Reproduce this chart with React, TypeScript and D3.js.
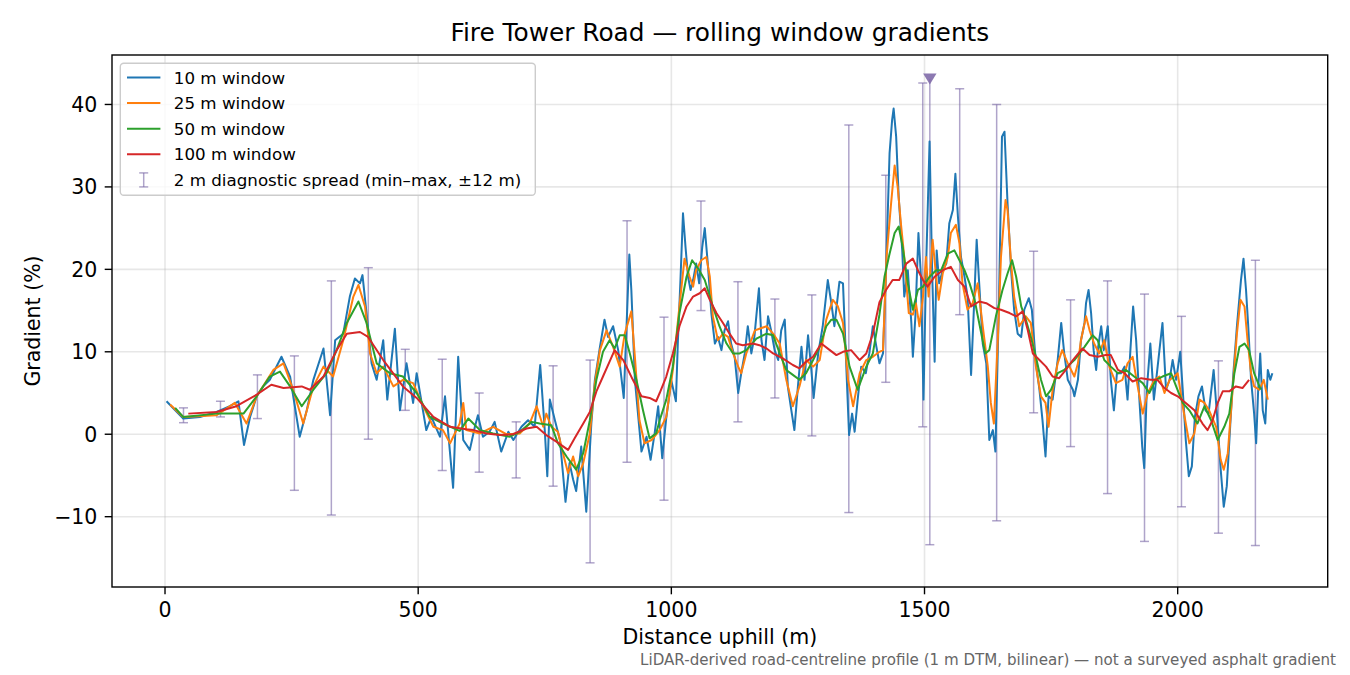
import React from "react";
import * as d3 from "d3";

// distance uphill (m), gradient (%)
const window10: [number, number][] = [
  [3, 4.0], [36, 1.9], [69, 2.1], [102, 2.7], [128, 3.4], [145, 4.0], [156, -1.3], [168, 2.1],
  [181, 4.6], [194, 5.8], [207, 6.6], [230, 9.4], [247, 7.0], [266, -0.3], [280, 2.9], [293, 6.6],
  [313, 10.4], [326, 2.3], [336, 11.4], [352, 12.2], [365, 16.7], [375, 18.9], [385, 18.3], [390, 19.3],
  [398, 14.7], [408, 8.6], [418, 6.6], [431, 11.4], [439, 4.2], [454, 12.8], [464, 2.9], [477, 8.6],
  [490, 3.8], [497, 7.4], [516, 0.5], [526, 2.1], [543, -0.3], [553, 4.6], [569, -6.5], [579, 9.4],
  [589, -0.7], [602, -1.9], [612, 0.9], [618, 2.3], [628, -0.3], [641, 0.3], [651, 1.5], [664, -2.1],
  [678, 0.3], [688, -0.7], [704, 0.9], [717, 1.7], [730, 0.9], [741, 8.4], [750, 0.5], [755, -5.1],
  [760, 4.2], [770, 1.7], [780, -0.7], [791, -8.2], [799, -3.5], [806, -5.5], [812, -6.9], [822, -1.5],
  [832, -9.4], [842, 1.3], [849, 6.6], [859, 10.6], [868, 13.9], [875, 11.8], [885, 13.1], [895, 10.2],
  [906, 4.4], [917, 21.8], [921, 17.5], [928, 6.6], [941, -2.1], [951, -0.3], [959, -3.1], [967, 0.1],
  [974, 3.4], [982, -2.9], [990, 2.0], [1000, 6.5], [1009, 4.0], [1013, 11.4], [1018, 18.7], [1023, 26.8],
  [1028, 22.7], [1033, 19.1], [1038, 17.5], [1043, 18.7], [1049, 20.7], [1055, 18.3], [1061, 22.7], [1066, 25.0],
  [1072, 20.7], [1079, 14.7], [1086, 11.0], [1092, 11.8], [1099, 10.2], [1105, 12.6], [1112, 13.7], [1118, 11.0],
  [1125, 9.4], [1132, 5.0], [1138, 7.4], [1145, 9.8], [1151, 13.1], [1158, 9.8], [1164, 11.8], [1173, 17.7],
  [1178, 11.4], [1184, 9.0], [1191, 14.3], [1197, 12.6], [1204, 10.2], [1211, 9.0], [1217, 12.6], [1224, 13.9],
  [1230, 5.8], [1237, 2.9], [1243, 0.5], [1250, 5.8], [1257, 10.6], [1263, 6.6], [1270, 12.0], [1276, 8.2],
  [1281, 4.4], [1290, 9.8], [1299, 13.1], [1309, 18.7], [1316, 15.9], [1322, 13.1], [1332, 18.5], [1339, 18.3],
  [1345, 9.0], [1351, -0.1], [1357, 2.5], [1362, 0.3], [1368, 4.2], [1375, 8.2], [1384, 7.4], [1391, 9.8],
  [1398, 13.1], [1405, 10.6], [1411, 8.6], [1418, 9.8], [1424, 19.9], [1431, 34.1], [1436, 38.1], [1439, 39.5],
  [1444, 36.1], [1449, 28.8], [1456, 22.3], [1460, 16.7], [1467, 19.9], [1474, 13.5], [1477, 9.4], [1482, 14.3],
  [1488, 24.4], [1493, 19.1], [1498, 4.2], [1503, 19.9], [1510, 35.5], [1515, 19.9], [1520, 8.8], [1524, 22.3],
  [1529, 18.3], [1536, 19.9], [1543, 20.7], [1549, 25.6], [1556, 27.2], [1561, 31.6], [1566, 26.4], [1572, 21.5],
  [1579, 19.1], [1585, 16.7], [1592, 7.2], [1598, 15.9], [1603, 23.6], [1608, 18.3], [1615, 11.0], [1622, 8.6],
  [1628, -0.7], [1635, 0.5], [1640, -2.1], [1647, 15.9], [1653, 36.1], [1658, 36.7], [1664, 28.0], [1671, 19.9],
  [1677, 15.1], [1684, 12.2], [1691, 11.8], [1697, 15.1], [1706, 16.5], [1712, 15.1], [1720, 8.6], [1727, 5.4],
  [1733, 1.7], [1739, -2.7], [1745, 4.6], [1753, 4.2], [1763, 9.0], [1770, 13.5], [1776, 9.8], [1783, 6.6],
  [1793, 5.4], [1796, 4.6], [1803, 6.6], [1809, 11.4], [1816, 13.5], [1819, 15.9], [1824, 17.5], [1829, 14.7],
  [1834, 10.2], [1839, 7.8], [1843, 10.6], [1849, 13.1], [1854, 10.2], [1862, 13.1], [1868, 6.6], [1874, 2.9],
  [1880, 7.4], [1888, 7.4], [1895, 8.2], [1901, 4.2], [1907, 10.6], [1912, 15.5], [1918, 11.4], [1924, 4.6],
  [1930, -1.5], [1934, -4.1], [1939, 5.4], [1946, 11.0], [1953, 4.2], [1959, 7.4], [1964, 10.2], [1970, 13.5],
  [1977, 5.4], [1984, 6.6], [1990, 9.0], [1997, 6.6], [2005, 10.0], [2010, 5.4], [2016, -0.7], [2022, -5.1],
  [2028, -3.9], [2034, 2.1], [2041, 4.6], [2048, 5.8], [2055, 2.9], [2061, 2.5], [2071, 7.8], [2078, 2.1],
  [2085, -4.3], [2091, -8.8], [2097, -6.3], [2104, 1.3], [2110, 7.4], [2117, 13.1], [2125, 18.7], [2130, 21.3],
  [2135, 17.5], [2139, 13.5], [2145, 6.6], [2151, 2.5], [2155, -1.1], [2159, 5.4], [2163, 9.8], [2168, 2.9],
  [2173, 1.3], [2178, 7.8], [2183, 6.6], [2187, 7.4],
];

const window25: [number, number][] = [
  [10, 3.6], [36, 2.1], [102, 2.3], [138, 3.8], [161, 1.3], [181, 4.6], [214, 7.8], [234, 8.6],
  [253, 5.4], [273, 1.3], [293, 5.8], [313, 8.2], [332, 7.0], [352, 11.4], [372, 16.7], [382, 18.1],
  [395, 15.5], [405, 9.8], [418, 7.4], [431, 8.2], [451, 5.8], [470, 6.6], [490, 6.2], [510, 3.4],
  [530, 0.9], [549, 0.5], [563, -1.1], [582, 1.3], [589, 3.8], [595, 0.5], [622, 0.1], [648, 0.9],
  [674, 0.0], [701, 0.1], [720, 1.3], [734, 3.4], [747, 0.9], [753, 2.5], [763, 0.9], [776, 0.3],
  [786, -2.3], [796, -4.7], [806, -2.7], [816, -5.1], [826, -3.5], [839, 0.1], [849, 6.2], [859, 10.2],
  [872, 12.6], [885, 10.6], [898, 8.2], [908, 12.2], [921, 14.9], [928, 9.4], [937, 1.7], [947, -1.1],
  [961, -0.7], [977, 0.5], [990, 2.1], [1003, 7.8], [1016, 15.5], [1026, 21.3], [1036, 19.1], [1043, 17.9],
  [1049, 19.9], [1059, 21.1], [1069, 21.5], [1076, 19.1], [1082, 14.3], [1092, 11.4], [1102, 12.2], [1112, 11.8],
  [1122, 9.8], [1132, 8.2], [1138, 7.4], [1148, 9.8], [1165, 12.6], [1174, 12.8], [1188, 13.1], [1201, 12.2],
  [1214, 11.0], [1227, 6.6], [1240, 3.4], [1253, 5.8], [1266, 9.0], [1280, 8.2], [1293, 9.0], [1306, 13.9],
  [1319, 16.3], [1329, 15.5], [1339, 13.5], [1349, 6.6], [1359, 3.4], [1372, 7.4], [1385, 9.0], [1398, 9.4],
  [1411, 10.0], [1418, 10.2], [1425, 21.5], [1434, 28.0], [1441, 32.6], [1447, 30.0], [1454, 25.2], [1460, 21.5],
  [1469, 14.7], [1477, 14.5], [1483, 15.9], [1490, 13.1], [1497, 16.7], [1503, 21.5], [1508, 16.7], [1516, 23.6],
  [1523, 19.1], [1528, 16.3], [1536, 19.5], [1546, 21.5], [1552, 24.4], [1562, 25.4], [1569, 23.2], [1575, 18.3],
  [1585, 15.1], [1595, 15.9], [1605, 18.3], [1615, 13.1], [1625, 8.2], [1631, 3.8], [1637, 1.3], [1645, 11.8],
  [1651, 21.5], [1660, 28.4], [1664, 27.2], [1671, 20.7], [1677, 16.7], [1687, 13.1], [1700, 14.3], [1710, 13.5],
  [1720, 8.2], [1730, 4.6], [1739, 3.8], [1745, 0.9], [1753, 5.4], [1763, 8.6], [1772, 10.2], [1783, 8.6],
  [1796, 7.0], [1803, 8.6], [1809, 11.4], [1819, 14.3], [1826, 12.6], [1835, 11.0], [1845, 9.8], [1855, 11.4],
  [1865, 8.2], [1878, 6.2], [1891, 6.6], [1901, 8.6], [1911, 9.4], [1921, 5.8], [1931, 2.5], [1941, 5.0],
  [1954, 6.6], [1964, 7.0], [1974, 5.0], [1984, 6.6], [1993, 7.0], [2000, 7.4], [2010, 3.4], [2023, -1.1],
  [2033, 0.1], [2043, 4.2], [2053, 3.8], [2062, 2.9], [2076, 0.9], [2085, -3.1], [2091, -4.3], [2099, -2.3],
  [2109, 5.8], [2117, 12.2], [2124, 16.3], [2132, 15.5], [2138, 11.4], [2145, 7.4], [2151, 5.8], [2161, 5.4],
  [2170, 6.6], [2178, 4.2],
];

const window50: [number, number][] = [
  [20, 3.2], [36, 2.1], [102, 2.5], [155, 2.5], [181, 4.6], [207, 7.0], [227, 7.6], [247, 5.8],
  [270, 3.4], [293, 5.4], [319, 7.4], [339, 10.2], [359, 13.5], [382, 16.1], [398, 13.5], [418, 8.6],
  [444, 7.4], [470, 7.0], [497, 5.0], [523, 2.1], [549, 1.3], [582, 0.4], [599, 1.9], [622, 0.5],
  [648, 0.1], [681, -0.3], [701, 0.3], [724, 1.5], [740, 1.3], [763, 1.1], [776, -1.1], [793, -2.7],
  [812, -4.3], [826, -2.3], [839, 1.7], [852, 6.6], [865, 10.0], [878, 11.4], [888, 10.4], [898, 12.0],
  [908, 12.0], [918, 9.8], [931, 6.6], [944, 2.9], [957, -0.5], [970, 0.1], [977, 1.7], [990, 4.2],
  [1003, 8.2], [1016, 14.7], [1030, 19.1], [1041, 21.1], [1053, 20.1], [1066, 18.7], [1082, 15.5], [1095, 13.1],
  [1109, 11.0], [1122, 9.8], [1135, 9.8], [1148, 10.2], [1168, 11.6], [1188, 12.2], [1201, 12.0], [1214, 9.8],
  [1227, 7.8], [1240, 7.2], [1253, 6.6], [1266, 7.4], [1280, 9.0], [1293, 10.6], [1306, 13.1], [1316, 13.9],
  [1326, 13.9], [1339, 12.2], [1352, 8.2], [1368, 5.4], [1385, 8.2], [1398, 9.8], [1411, 14.5], [1421, 19.1],
  [1431, 21.9], [1441, 24.4], [1449, 25.2], [1457, 22.7], [1467, 18.3], [1477, 15.1], [1487, 17.5], [1497, 17.9],
  [1510, 19.1], [1523, 19.9], [1533, 19.9], [1546, 21.9], [1559, 22.3], [1569, 21.1], [1579, 19.9], [1589, 18.3],
  [1599, 16.3], [1608, 13.5], [1620, 9.8], [1628, 10.2], [1641, 14.3], [1654, 17.5], [1664, 19.5], [1673, 21.1],
  [1681, 19.1], [1691, 15.5], [1700, 13.9], [1710, 11.8], [1720, 9.4], [1730, 6.6], [1740, 4.6], [1750, 5.4],
  [1763, 7.4], [1776, 7.8], [1789, 8.6], [1796, 9.0], [1816, 10.6], [1832, 12.0], [1842, 11.4], [1855, 9.0],
  [1868, 8.2], [1882, 7.4], [1898, 7.8], [1914, 7.0], [1931, 6.2], [1944, 5.0], [1957, 6.6], [1970, 7.0],
  [1987, 7.4], [1997, 5.8], [2010, 3.8], [2023, 2.9], [2039, 1.3], [2053, 3.4], [2066, 1.7], [2079, -0.7],
  [2092, 0.9], [2102, 2.5], [2112, 7.4], [2122, 10.6], [2132, 11.0], [2141, 10.2], [2151, 7.4], [2164, 5.4],
];

const window100: [number, number][] = [
  [46, 2.5], [102, 2.7], [141, 3.4], [181, 4.8], [210, 6.0], [234, 5.6], [270, 5.8], [286, 5.4],
  [313, 7.0], [339, 10.2], [359, 12.2], [385, 12.4], [401, 11.8], [431, 9.0], [470, 5.8], [497, 4.4],
  [530, 2.1], [563, 0.9], [595, 0.6], [609, 0.5], [635, 0.1], [661, -0.1], [687, 0.0], [714, 0.7],
  [734, 0.9], [753, -0.1], [773, -0.9], [796, -1.9], [809, -0.5], [826, 1.3], [839, 2.7], [852, 5.2],
  [865, 7.0], [878, 8.8], [888, 10.2], [905, 9.0], [924, 6.6], [941, 4.6], [957, 4.4], [970, 4.0],
  [977, 5.0], [990, 7.0], [1003, 9.8], [1016, 13.1], [1030, 15.5], [1043, 16.7], [1056, 17.1], [1066, 17.7],
  [1076, 16.3], [1089, 14.7], [1102, 13.5], [1115, 12.2], [1128, 11.0], [1141, 10.8], [1161, 11.0], [1174, 10.8],
  [1188, 10.4], [1201, 9.8], [1220, 9.2], [1240, 8.4], [1253, 8.0], [1266, 8.8], [1280, 9.4], [1296, 11.0],
  [1313, 10.2], [1326, 9.6], [1339, 10.0], [1355, 10.2], [1372, 9.0], [1385, 9.8], [1398, 12.2], [1411, 16.0],
  [1424, 17.5], [1437, 18.7], [1450, 18.7], [1464, 20.7], [1477, 21.3], [1487, 19.9], [1497, 18.7], [1506, 17.9],
  [1520, 19.1], [1536, 19.9], [1552, 20.3], [1566, 18.7], [1579, 17.9], [1592, 15.5], [1608, 16.1], [1622, 15.9],
  [1638, 15.3], [1651, 15.1], [1668, 14.7], [1681, 14.3], [1694, 14.9], [1704, 12.6], [1714, 9.8], [1727, 9.0],
  [1740, 8.2], [1753, 7.0], [1766, 6.8], [1779, 7.8], [1793, 9.0], [1812, 10.4], [1826, 9.6], [1842, 9.4],
  [1858, 9.6], [1868, 9.6], [1882, 7.8], [1895, 7.4], [1911, 6.4], [1928, 6.8], [1947, 6.6], [1960, 6.6],
  [1974, 5.6], [1987, 5.0], [2000, 4.6], [2016, 3.8], [2033, 2.9], [2049, 1.3], [2059, 0.5], [2069, 1.7],
  [2079, 3.8], [2089, 5.2], [2102, 5.2], [2115, 5.8], [2128, 5.6], [2141, 6.6],
];

// 2 m diagnostic spread, min-max within +/-12 m
const spreadDistance = [
  36.5, 109.5, 182.5, 255.5, 328.5, 401.5, 474.5, 547.5, 620.5, 693.5,
  766.5, 839.5, 912.5, 985.5, 1058.5, 1131.5, 1204.5, 1277.5, 1350.5, 1423.5,
  1496.5, 1569.5, 1642.5, 1715.5, 1788.5, 1861.5, 1934.5, 2007.5, 2080.5, 2153.5,
];
const spreadMax = [
  3.2, 4.0, 7.2, 9.5, 18.6, 20.2, 10.3, 9.1, 5.0, 1.5,
  8.3, 9.0, 25.9, 14.2, 28.3, 18.5, 16.4, 16.9, 37.5, 31.4,
  42.6, 41.9, 40.0, 22.2, 16.3, 18.6, 17.0, 14.3, 8.9, 21.1,
];
const spreadMin = [
  1.4, 2.1, 1.9, -6.8, -9.8, -0.6, 2.9, -4.4, -4.6, -5.3,
  -6.3, -15.6, -3.4, -8.0, 15.0, 1.5, 4.4, -0.2, -9.5, 6.3,
  0.9, 14.5, -10.5, 2.6, -1.5, -7.2, -13.0, -8.8, -12.0, -13.5,
];

// steepest 2 m spread
const peakDistance = 1510.5;
const peakMax = 43.1;
const peakMin = -13.4;

const xTicks = [0, 500, 1000, 1500, 2000];
const yTicks = [-10, 0, 10, 20, 30, 40];

const series = [
  { label: "10 m window", color: "#1f77b4", data: window10 },
  { label: "25 m window", color: "#ff7f0e", data: window25 },
  { label: "50 m window", color: "#2ca02c", data: window50 },
  { label: "100 m window", color: "#d62728", data: window100 },
];

const W = 1350;
const H = 675;
const left = 112;
const right = 1327.7;
const top = 55;
const bottom = 587;
const FONT = "DejaVu Sans, sans-serif";
const spreadColor = "#7a68a6";

const fmt = (v: number) => (v < 0 ? "\u2212" + Math.abs(v) : String(v));

export default function App() {
  const x = d3.scaleLinear().domain([-104.7, 2296.3]).range([left, right]);
  const y = d3.scaleLinear().domain([-18.53, 46.0]).range([bottom, top]);
  const line = d3
    .line<[number, number]>()
    .x((d) => x(d[0]))
    .y((d) => y(d[1]));

  const cap = 4.5;
  const legendX = 120.3;
  const legendY = 63.3;
  const rowH = 25.6;
  const legendFont = 16.7;

  return (
    <svg
      width={W}
      height={H}
      viewBox={`0 0 ${W} ${H}`}
      style={{ position: "absolute", left: 0, top: 0, background: "#fff" }}
      fontFamily={FONT}
    >
      <defs>
        <clipPath id="plot">
          <rect x={left} y={top} width={right - left} height={bottom - top} />
        </clipPath>
      </defs>
      <rect width={W} height={H} fill="#fff" />

      {/* grid */}
      <g stroke="#b0b0b0" strokeOpacity={0.3} strokeWidth={1.6}>
        {xTicks.map((t) => (
          <line key={"gx" + t} x1={x(t)} x2={x(t)} y1={top} y2={bottom} />
        ))}
        {yTicks.map((t) => (
          <line key={"gy" + t} x1={left} x2={right} y1={y(t)} y2={y(t)} />
        ))}
      </g>

      <g clipPath="url(#plot)">
        {/* spread bars */}
        <g stroke={spreadColor} strokeOpacity={0.6} strokeWidth={1.5}>
          {spreadDistance.map((d, i) => (
            <g key={"e" + i}>
              <line x1={x(d)} x2={x(d)} y1={y(spreadMax[i])} y2={y(spreadMin[i])} />
              <line x1={x(d) - cap} x2={x(d) + cap} y1={y(spreadMax[i])} y2={y(spreadMax[i])} />
              <line x1={x(d) - cap} x2={x(d) + cap} y1={y(spreadMin[i])} y2={y(spreadMin[i])} />
            </g>
          ))}
          <line x1={x(peakDistance)} x2={x(peakDistance)} y1={y(peakMax)} y2={y(peakMin)} />
          <line
            x1={x(peakDistance) - cap}
            x2={x(peakDistance) + cap}
            y1={y(peakMin)}
            y2={y(peakMin)}
          />
        </g>

        {series.map((s) => (
          <path
            key={s.label}
            d={line(s.data) || ""}
            fill="none"
            stroke={s.color}
            strokeWidth={2.0}
            strokeLinejoin="round"
          />
        ))}

        <path
          d={`M${x(peakDistance) - 6.7},${y(peakMax) - 5.5}L${x(peakDistance) + 6.7},${
            y(peakMax) - 5.5
          }L${x(peakDistance)},${y(peakMax) + 5.5}Z`}
          fill="#7f6aa8"
          fillOpacity={0.9}
        />
      </g>

      {/* spines */}
      <rect
        x={left}
        y={top}
        width={right - left}
        height={bottom - top}
        fill="none"
        stroke="#000"
        strokeWidth={1.4}
      />

      {/* axes */}
      <g fontSize={20.5} fill="#000">
        {xTicks.map((t) => (
          <g key={"xt" + t}>
            <line x1={x(t)} x2={x(t)} y1={bottom} y2={bottom + 7.3} stroke="#000" strokeWidth={1.4} />
            <text x={x(t)} y={bottom + 30} textAnchor="middle">
              {fmt(t)}
            </text>
          </g>
        ))}
        {yTicks.map((t) => (
          <g key={"yt" + t}>
            <line x1={left - 7.3} x2={left} y1={y(t)} y2={y(t)} stroke="#000" strokeWidth={1.4} />
            <text x={left - 14.6} y={y(t) + 7.4} textAnchor="end">
              {fmt(t)}
            </text>
          </g>
        ))}
        <text x={(left + right) / 2} y={644} textAnchor="middle">
          Distance uphill (m)
        </text>
        <text transform={`translate(40,${(top + bottom) / 2}) rotate(-90)`} textAnchor="middle">
          Gradient (%)
        </text>
      </g>

      <text x={(left + right) / 2} y={41} textAnchor="middle" fontSize={24.8} fill="#000">
        Fire Tower Road — rolling window gradients
      </text>

      {/* legend */}
      <g>
        <rect
          x={legendX}
          y={legendY}
          width={415}
          height={132}
          rx={3.5}
          fill="#fff"
          fillOpacity={0.8}
          stroke="#cccccc"
          strokeWidth={1.4}
        />
        {series.map((s, i) => {
          const cy = legendY + 14.2 + i * rowH;
          return (
            <g key={"lg" + s.label}>
              <line x1={127} x2={160.4} y1={cy} y2={cy} stroke={s.color} strokeWidth={2.0} />
              <text x={173.8} y={cy + 6} fontSize={legendFont} fill="#000">
                {s.label}
              </text>
            </g>
          );
        })}
        {(() => {
          const cy = legendY + 14.2 + 4 * rowH;
          const cx = 143.7;
          return (
            <g>
              <g stroke={spreadColor} strokeOpacity={0.6} strokeWidth={1.5}>
                <line x1={cx} x2={cx} y1={cy - 7} y2={cy + 7} />
                <line x1={cx - cap} x2={cx + cap} y1={cy - 7} y2={cy - 7} />
                <line x1={cx - cap} x2={cx + cap} y1={cy + 7} y2={cy + 7} />
              </g>
              <text x={173.8} y={cy + 6} fontSize={legendFont} fill="#000">
                2 m diagnostic spread (min–max, ±12 m)
              </text>
            </g>
          );
        })()}
      </g>

      <text x={1336} y={665} textAnchor="end" fontSize={15.1} fill="#666">
        LiDAR-derived road-centreline profile (1 m DTM, bilinear) — not a surveyed asphalt gradient
      </text>
    </svg>
  );
}
